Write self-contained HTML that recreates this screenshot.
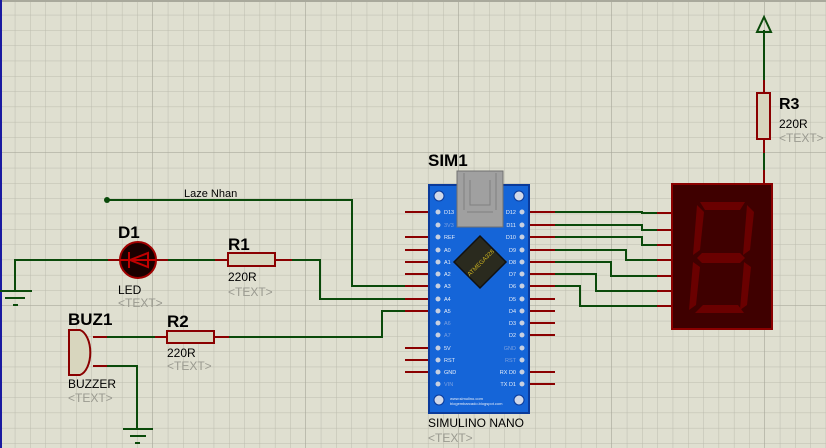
<!DOCTYPE html>
<html><head><style>html,body{margin:0;padding:0;background:#dfdfd0;}svg{display:block}</style></head><body>
<svg width="826" height="448" viewBox="0 0 826 448" xmlns="http://www.w3.org/2000/svg" font-family="Liberation Sans, Arial, sans-serif">
<defs>
<pattern id="g" width="15.3" height="15.3" patternUnits="userSpaceOnUse"><path d="M15.3 0V15.3M0 15.3H15.3" stroke="#bcbcae" stroke-width="1" fill="none"/></pattern>
<pattern id="G" width="153" height="153" patternUnits="userSpaceOnUse"><path d="M153 0V153M0 153H153" stroke="#a9a99c" stroke-width="1.3" fill="none"/></pattern>
</defs>
<rect width="826" height="448" fill="#dfdfd0"/>
<rect width="826" height="448" fill="url(#g)"/>
<rect width="826" height="448" fill="url(#G)"/>
<line x1="0" y1="1" x2="826" y2="1" stroke="#a9a99c" stroke-width="2"/>
<rect x="0" y="0" width="2" height="448" fill="#1a1aa0"/>

<g fill="none" stroke="#0a4a0a" stroke-width="2">
<polyline points="107,200 352,200 352,286 405,286"/>
<polyline points="15,290 15,260 108,260"/>
<line x1="168" y1="260" x2="215" y2="260"/>
<polyline points="292,260 320,260 320,299 405,299"/>
<line x1="107" y1="337" x2="155" y2="337"/>
<polyline points="229,337 382,337 382,311 405,311"/>
<polyline points="107,366 137,366 137,428"/>
<polyline points="555,212 642,212 642,213 657,213"/>
<polyline points="555,225 642,225 642,230 657,230"/>
<polyline points="555,237 642,237 642,245 657,245"/>
<polyline points="555,250 626,250 626,260 657,260"/>
<polyline points="555,262 611,262 611,276 657,276"/>
<polyline points="555,274 596,274 596,291 657,291"/>
<polyline points="555,286 580,286 580,306 657,306"/>
<line x1="764" y1="170" x2="764" y2="153"/>
<line x1="764" y1="80" x2="764" y2="30"/>
<polygon points="764,17 757,32 771,32"/>
</g>
<circle cx="107" cy="200" r="3" fill="#0a4a0a"/>
<text x="184" y="197" font-size="11" fill="#000">Laze Nhan</text>
<g stroke="#0a4a0a" stroke-width="2">
<line x1="0" y1="291" x2="32" y2="291"/><line x1="5" y1="298" x2="25" y2="298"/><line x1="13" y1="305" x2="18" y2="305"/>
<line x1="123" y1="429" x2="153" y2="429"/><line x1="130" y1="436" x2="146" y2="436"/><line x1="135" y1="443" x2="140" y2="443"/>
</g>
<g stroke="#8a0000" stroke-width="2">
<line x1="108" y1="260" x2="120" y2="260"/><line x1="156" y1="260" x2="168" y2="260"/>
<line x1="215" y1="260" x2="228" y2="260"/><line x1="275" y1="260" x2="292" y2="260"/>
<line x1="93" y1="337" x2="107" y2="337"/><line x1="93" y1="366" x2="107" y2="366"/>
<line x1="155" y1="337" x2="167" y2="337"/><line x1="214" y1="337" x2="229" y2="337"/>
<line x1="764" y1="184" x2="764" y2="170"/><line x1="764" y1="153" x2="764" y2="139"/><line x1="764" y1="93" x2="764" y2="80"/>
<line x1="657" y1="213" x2="672" y2="213"/><line x1="657" y1="230" x2="672" y2="230"/><line x1="657" y1="245" x2="672" y2="245"/><line x1="657" y1="260" x2="672" y2="260"/><line x1="657" y1="276" x2="672" y2="276"/><line x1="657" y1="291" x2="672" y2="291"/><line x1="657" y1="306" x2="672" y2="306"/>
<line x1="405" y1="212" x2="433" y2="212"/><line x1="405" y1="237" x2="433" y2="237"/><line x1="405" y1="250" x2="433" y2="250"/><line x1="405" y1="262" x2="433" y2="262"/><line x1="405" y1="274" x2="433" y2="274"/><line x1="405" y1="286" x2="433" y2="286"/><line x1="405" y1="299" x2="433" y2="299"/><line x1="405" y1="311" x2="433" y2="311"/><line x1="405" y1="348" x2="433" y2="348"/><line x1="405" y1="360" x2="433" y2="360"/><line x1="405" y1="372" x2="433" y2="372"/>
<line x1="527" y1="212" x2="555" y2="212"/><line x1="527" y1="225" x2="555" y2="225"/><line x1="527" y1="237" x2="555" y2="237"/><line x1="527" y1="250" x2="555" y2="250"/><line x1="527" y1="262" x2="555" y2="262"/><line x1="527" y1="274" x2="555" y2="274"/><line x1="527" y1="286" x2="555" y2="286"/><line x1="527" y1="299" x2="555" y2="299"/><line x1="527" y1="311" x2="555" y2="311"/><line x1="527" y1="323" x2="555" y2="323"/><line x1="527" y1="335" x2="555" y2="335"/><line x1="527" y1="372" x2="555" y2="372"/><line x1="527" y1="384" x2="555" y2="384"/>
</g>
<g fill="#d8d6be" stroke="#8a0000" stroke-width="2">
<rect x="228" y="253" width="47" height="13"/>
<rect x="167" y="331" width="47" height="12"/>
<rect x="757" y="93" width="13" height="46"/>
</g>
<circle cx="138" cy="260" r="18" fill="#1a0000" stroke="#a00000" stroke-width="2"/>
<g stroke="#c00000" stroke-width="2" fill="none"><polygon points="148,253 148,267 130,260"/><line x1="129" y1="252" x2="129" y2="268"/><line x1="120" y1="260" x2="156" y2="260"/></g>
<path d="M69 330 H80 A13 23 0 0 1 80 375 H69 Z" fill="#d8d6be" stroke="#8a0000" stroke-width="2"/>
<g fill="#000" font-weight="bold">
<text x="118" y="238" font-size="17">D1</text>
<text x="228" y="250" font-size="17">R1</text>
<text x="68" y="325" font-size="17">BUZ1</text>
<text x="167" y="327" font-size="17">R2</text>
<text x="779" y="109" font-size="16">R3</text>
<text x="428" y="166" font-size="17">SIM1</text>
</g>
<g fill="#000">
<text x="118" y="294" font-size="12">LED</text>
<text x="228" y="281" font-size="12">220R</text>
<text x="68" y="388" font-size="12">BUZZER</text>
<text x="167" y="357" font-size="12">220R</text>
<text x="779" y="128" font-size="12">220R</text>
<text x="428" y="427" font-size="12">SIMULINO NANO</text>
</g>
<g fill="#9a9a90" font-size="12">
<text x="118" y="307">&lt;TEXT&gt;</text>
<text x="228" y="296">&lt;TEXT&gt;</text>
<text x="68" y="402">&lt;TEXT&gt;</text>
<text x="167" y="370">&lt;TEXT&gt;</text>
<text x="779" y="142">&lt;TEXT&gt;</text>
<text x="428" y="442">&lt;TEXT&gt;</text>
</g>
<rect x="429" y="185" width="100" height="228" fill="#1565d8" stroke="#0a3a9a" stroke-width="2"/>
<g fill="#d0d8e8" stroke="#0a3a9a"><circle cx="439" cy="196" r="5"/><circle cx="519" cy="196" r="5"/><circle cx="439" cy="400" r="5"/><circle cx="519" cy="400" r="5"/></g>
<g fill="#c8d0e0">
<circle cx="438" cy="212" r="2.5"/><circle cx="438" cy="225" r="2.5"/><circle cx="438" cy="237" r="2.5"/><circle cx="438" cy="250" r="2.5"/><circle cx="438" cy="262" r="2.5"/><circle cx="438" cy="274" r="2.5"/><circle cx="438" cy="286" r="2.5"/><circle cx="438" cy="299" r="2.5"/><circle cx="438" cy="311" r="2.5"/><circle cx="438" cy="323" r="2.5"/><circle cx="438" cy="335" r="2.5"/><circle cx="438" cy="348" r="2.5"/><circle cx="438" cy="360" r="2.5"/><circle cx="438" cy="372" r="2.5"/><circle cx="438" cy="384" r="2.5"/>
<circle cx="522" cy="212" r="2.5"/><circle cx="522" cy="225" r="2.5"/><circle cx="522" cy="237" r="2.5"/><circle cx="522" cy="250" r="2.5"/><circle cx="522" cy="262" r="2.5"/><circle cx="522" cy="274" r="2.5"/><circle cx="522" cy="286" r="2.5"/><circle cx="522" cy="299" r="2.5"/><circle cx="522" cy="311" r="2.5"/><circle cx="522" cy="323" r="2.5"/><circle cx="522" cy="335" r="2.5"/><circle cx="522" cy="348" r="2.5"/><circle cx="522" cy="360" r="2.5"/><circle cx="522" cy="372" r="2.5"/><circle cx="522" cy="384" r="2.5"/>
</g>
<g fill="#e8eef8" font-size="5.5">
<text x="444" y="214">D13</text><text x="444" y="227" fill="#7aa0e0">3V3</text><text x="444" y="239">REF</text><text x="444" y="252">A0</text><text x="444" y="264">A1</text><text x="444" y="276">A2</text><text x="444" y="288">A3</text><text x="444" y="301">A4</text><text x="444" y="313">A5</text><text x="444" y="325" fill="#7aa0e0">A6</text><text x="444" y="337" fill="#7aa0e0">A7</text><text x="444" y="350">5V</text><text x="444" y="362">RST</text><text x="444" y="374">GND</text><text x="444" y="386" fill="#7aa0e0">VIN</text>
<g text-anchor="end"><text x="516" y="214">D12</text><text x="516" y="227">D11</text><text x="516" y="239">D10</text><text x="516" y="252">D9</text><text x="516" y="264">D8</text><text x="516" y="276">D7</text><text x="516" y="288">D6</text><text x="516" y="301">D5</text><text x="516" y="313">D4</text><text x="516" y="325">D3</text><text x="516" y="337">D2</text><text x="516" y="350" fill="#7aa0e0">GND</text><text x="516" y="362" fill="#7aa0e0">RST</text><text x="516" y="374">RX D0</text><text x="516" y="386">TX D1</text></g>
<text x="450" y="400" font-size="4">www.simulino.com</text><text x="450" y="405" font-size="4">blogembarcado.blogspot.com</text>
</g>
<polygon points="480,236 506,262 480,288 454,262" fill="#2a2a1e" stroke="#111" stroke-width="1.5"/>
<text x="480" y="265" font-size="6" fill="#c8b020" text-anchor="middle" transform="rotate(-45 480 262)">ATMEGA328</text>
<rect x="457" y="171" width="46" height="56" fill="#a0a0a0" stroke="#707070"/>
<path d="M464 173 V210 M496 173 V210 M470 180 V205 H490 V180 M467 212 H493" stroke="#808080" fill="none"/>
<rect x="672" y="184" width="100" height="145" fill="#3f0000" stroke="#8a0000" stroke-width="2"/>
<g fill="#6a0000">
<polygon points="700,202 745,202 740,210 705,210"/>
<polygon points="697,205 704,212 700,250 693,255"/>
<polygon points="747,205 754,212 750,250 743,255"/>
<polygon points="697,258 702,253 740,253 745,258 740,263 702,263"/>
<polygon points="693,262 700,267 696,305 689,310"/>
<polygon points="744,262 751,267 747,305 740,310"/>
<polygon points="695,313 703,305 738,305 744,313"/>
</g>
</svg>
</body></html>
